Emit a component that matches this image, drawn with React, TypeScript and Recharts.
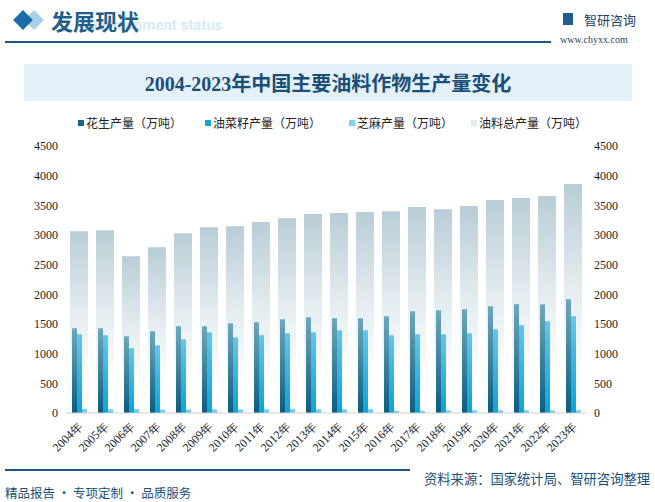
import { BarChart, Bar, XAxis, YAxis, Legend } from 'recharts';

const years = ['2004年', '2005年', '2006年', '2007年', '2008年', '2009年', '2010年', '2011年', '2012年', '2013年',
  '2014年', '2015年', '2016年', '2017年', '2018年', '2019年', '2020年', '2021年', '2022年', '2023年'];
const peanut = [1428, 1428, 1293, 1377, 1462, 1462, 1513, 1530, 1580, 1614, 1597, 1597, 1631, 1715, 1732, 1749, 1799, 1833, 1833, 1918];
const rapeseed = [1327, 1310, 1091, 1141, 1243, 1361, 1276, 1310, 1344, 1361, 1395, 1395, 1310, 1327, 1327, 1344, 1412, 1479, 1547, 1631];
const sesame = [70, 62, 66, 56, 59, 62, 59, 61, 64, 62, 63, 64, 35, 37, 43, 47, 45, 45, 45, 47];
const total = [3065, 3082, 2643, 2795, 3030, 3131, 3148, 3217, 3284, 3352, 3369, 3386, 3402, 3470, 3436, 3487, 3588, 3622, 3656, 3858];
const yTicks = [0, 500, 1000, 1500, 2000, 2500, 3000, 3500, 4000, 4500];

const legendItems = [
  { name: '花生产量（万吨）', color: '#14688a' },
  { name: '油菜籽产量（万吨）', color: '#16a2da' },
  { name: '芝麻产量（万吨）', color: '#7dd3f0' },
  { name: '油料总产量（万吨）', color: '#e4ecf0' },
];

const data = years.map((year, i) => ({
  year,
  peanut: peanut[i],
  rapeseed: rapeseed[i],
  sesame: sesame[i],
  total: total[i],
}));

const blue = '#1c5a86';
const tickStyle = { fontSize: 12, fill: '#222', fontFamily: '"Liberation Serif", serif' };

const renderLegend = () => (
  <div style={{ fontSize: 12, fontFamily: '"Noto Sans CJK SC", sans-serif', color: '#222', position: 'relative', height: 0 }}>
    {legendItems.map((item, i) => (
      <div key={i} style={{ position: 'absolute', left: [78, 205, 349, 471][i], top: 0, display: 'flex', alignItems: 'center', whiteSpace: 'nowrap' }}>
        <span style={{ width: 6, height: 6, background: item.color, marginRight: 2, display: 'inline-block' }} />
        {item.name}
      </div>
    ))}
  </div>
);

const App = () => {
  return (
    <div style={{ position: 'absolute', left: 0, top: 0, width: 655, height: 502, background: '#fff', overflow: 'hidden' }}>
      {/* header */}
      <div style={{ position: 'absolute', left: 27, top: 13, width: 14, height: 14, background: '#a9d0e6', transform: 'rotate(45deg)' }} />
      <div style={{ position: 'absolute', left: 16, top: 13, width: 14, height: 14, background: '#1a6da6', transform: 'rotate(45deg)' }} />
      <div style={{ position: 'absolute', left: 88, top: 16, fontSize: 15, fontWeight: 'bold', color: '#d8eaf6', fontFamily: 'Roboto, sans-serif' }}>
        Development status
      </div>
      <div style={{ position: 'absolute', left: 51, top: 4, fontSize: 22, fontWeight: 'bold', color: '#1f5f8c', fontFamily: '"Noto Sans CJK SC", sans-serif' }}>
        发展现状
      </div>
      <div style={{ position: 'absolute', left: 5, top: 41, width: 546, height: 1.5, background: blue }} />
      <div style={{ position: 'absolute', left: 563, top: 13, width: 10, height: 12, background: '#1f5f8c' }} />
      <div style={{ position: 'absolute', left: 584, top: 10, fontSize: 13, color: '#1f3f66', fontFamily: '"Noto Sans CJK SC", sans-serif' }}>
        智研咨询
      </div>
      <div style={{ position: 'absolute', left: 560, top: 34, fontSize: 10, color: '#1f3f66', fontFamily: '"Liberation Serif", serif' }}>
        www.chyxx.com
      </div>

      {/* title box */}
      <div style={{ position: 'absolute', left: 24, top: 64, width: 608, height: 37, background: '#e4f1f9', display: 'flex', alignItems: 'center', justifyContent: 'center' }}>
        <span style={{ fontSize: 20, fontWeight: 'bold', color: '#1a4f78', fontFamily: '"Liberation Serif", "Noto Sans CJK SC", serif' }}>
          2004-2023年中国主要油料作物生产量变化
        </span>
      </div>

      <div style={{ position: 'absolute', left: 0, top: 0 }}>
        <BarChart
          width={655}
          height={502}
          data={data}
          margin={{ top: 146, right: 19, left: 10, bottom: 39 }}
          barGap={0}
        >
          <defs>
            <linearGradient id="gTotal" x1="0" y1="0" x2="0" y2="1">
              <stop offset="0%" stopColor="#b8cdd6" />
              <stop offset="45%" stopColor="#e4ecf0" />
              <stop offset="85%" stopColor="#ffffff" />
            </linearGradient>
            <linearGradient id="gPeanut" x1="0" y1="0" x2="0" y2="1">
              <stop offset="0%" stopColor="#6ea8bb" />
              <stop offset="100%" stopColor="#0b5d7f" />
            </linearGradient>
            <linearGradient id="gRape" x1="0" y1="0" x2="0" y2="1">
              <stop offset="0%" stopColor="#62c6ec" />
              <stop offset="100%" stopColor="#0ca3d8" />
            </linearGradient>
          </defs>
          <XAxis
            xAxisId="front"
            dataKey="year"
            height={50}
            interval={0}
            angle={-45}
            textAnchor="end"
            tickLine={false}
            axisLine={{ stroke: '#cfcfcf' }}
            tick={{ ...tickStyle, dx: -2 }}
          />
          <XAxis xAxisId="back" dataKey="year" hide height={0} />
          <YAxis yAxisId="left" width={56} domain={[0, 4500]} ticks={yTicks} axisLine={false} tickLine={false} tick={tickStyle} />
          <YAxis yAxisId="right" orientation="right" width={50} domain={[0, 4500]} ticks={yTicks} axisLine={false} tickLine={false} tick={tickStyle} />
          <Legend content={renderLegend} verticalAlign="top" wrapperStyle={{ top: 114, left: 0, width: 655 }} />
          <Bar xAxisId="back" yAxisId="right" dataKey="total" name="油料总产量（万吨）" fill="url(#gTotal)" barSize={18} isAnimationActive={false} />
          <Bar xAxisId="front" yAxisId="left" dataKey="peanut" name="花生产量（万吨）" fill="url(#gPeanut)" barSize={5} isAnimationActive={false} />
          <Bar xAxisId="front" yAxisId="left" dataKey="rapeseed" name="油菜籽产量（万吨）" fill="url(#gRape)" barSize={5} isAnimationActive={false} />
          <Bar xAxisId="front" yAxisId="left" dataKey="sesame" name="芝麻产量（万吨）" fill="#6fcdf0" barSize={5} isAnimationActive={false} />
        </BarChart>
      </div>

      {/* footer */}
      <div style={{ position: 'absolute', left: 5, top: 469, width: 405, height: 1.5, background: blue }} />
      <div style={{ position: 'absolute', left: 424, top: 469, fontSize: 13.3, color: '#1a4f78', fontFamily: '"Noto Sans CJK SC", sans-serif' }}>
        资料来源：国家统计局、智研咨询整理
      </div>
      <div style={{ position: 'absolute', left: 5, top: 483, fontSize: 12.5, color: '#1a4f78', fontFamily: '"Noto Sans CJK SC", sans-serif' }}>
        精品报告 · 专项定制 · 品质服务
      </div>
    </div>
  );
};

export default App;
